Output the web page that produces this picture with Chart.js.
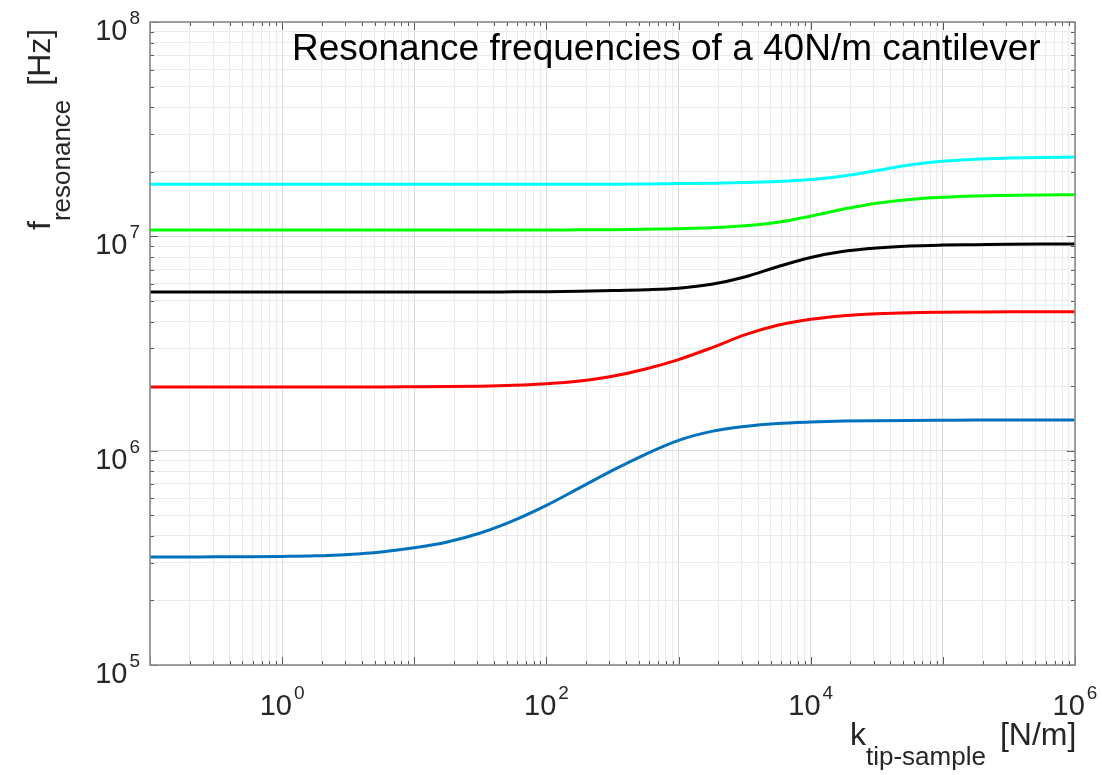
<!DOCTYPE html>
<html>
<head>
<meta charset="utf-8">
<title>Resonance frequencies of a 40N/m cantilever</title>
<script src="https://cdn.jsdelivr.net/npm/chart.js@4.4.0/dist/chart.umd.min.js"></script>
<style>
  html, body { margin: 0; padding: 0; background: #fff; }
</style>
</head>
<body>
<canvas id="resChart" width="1102" height="775"></canvas>
<script>
/* ================================
   DATA (quarter-decade steps)
================================ */
const kValues = [
    0.1, 0.178, 0.316, 0.562,
    1, 1.78, 3.16, 5.62,
    10, 17.8, 31.6, 56.2,
    100, 178, 316, 562,
    1000, 1780, 3160, 5620,
    1e4, 1.78e4, 3.16e4, 5.62e4,
    1e5, 1.78e5, 3.16e5, 5.62e5,
    1e6
];

const mode1 = [
    3.19e5, 3.19e5, 3.20e5, 3.20e5,
    3.21e5, 3.23e5, 3.28e5, 3.37e5,
    3.52e5, 3.75e5, 4.13e5, 4.72e5,
    5.56e5, 6.70e5, 8.09e5, 9.62e5,
    1.117e6, 1.230e6, 1.297e6, 1.340e6,
    1.361e6, 1.374e6, 1.380e6, 1.384e6,
    1.387e6, 1.39e6, 1.39e6, 1.39e6,
    1.39e6
];
const mode2 = [
    1.982e6, 1.982e6, 1.982e6, 1.982e6,
    1.982e6, 1.982e6, 1.982e6, 1.982e6,
    1.986e6, 1.991e6, 2.000e6, 2.018e6,
    2.051e6, 2.113e6, 2.223e6, 2.404e6,
    2.661e6, 3.020e6, 3.467e6, 3.846e6,
    4.102e6, 4.266e6, 4.355e6, 4.406e6,
    4.426e6, 4.436e6, 4.446e6, 4.446e6,
    4.446e6
];
const mode3 = [
    5.495e6, 5.495e6, 5.495e6, 5.495e6,
    5.495e6, 5.495e6, 5.495e6, 5.495e6,
    5.495e6, 5.495e6, 5.495e6, 5.508e6,
    5.521e6, 5.546e6, 5.585e6, 5.636e6,
    5.728e6, 5.970e6, 6.457e6, 7.211e6,
    7.962e6, 8.511e6, 8.831e6, 9.016e6,
    9.099e6, 9.141e6, 9.183e6, 9.204e6,
    9.204e6
];
const mode4 = [
    1.069e7, 1.069e7, 1.069e7, 1.069e7,
    1.069e7, 1.069e7, 1.069e7, 1.069e7,
    1.069e7, 1.069e7, 1.069e7, 1.069e7,
    1.069e7, 1.072e7, 1.074e7, 1.079e7,
    1.086e7, 1.096e7, 1.119e7, 1.164e7,
    1.242e7, 1.340e7, 1.426e7, 1.486e7,
    1.521e7, 1.542e7, 1.552e7, 1.560e7,
    1.563e7
];
const mode5 = [
    1.750e7, 1.750e7, 1.750e7, 1.750e7,
    1.750e7, 1.750e7, 1.750e7, 1.750e7,
    1.750e7, 1.750e7, 1.750e7, 1.750e7,
    1.750e7, 1.750e7, 1.750e7, 1.754e7,
    1.762e7, 1.770e7, 1.782e7, 1.803e7,
    1.841e7, 1.914e7, 2.028e7, 2.153e7,
    2.239e7, 2.291e7, 2.317e7, 2.333e7,
    2.344e7
];

const modeColors = ["#0072BD", "#FF0000", "#000000", "#00FF00", "#00FFFF"];

// tick decades (exponents) and which of them get a label
const xDecades = [-1, 0, 1, 2, 3, 4, 5, 6];
const xLabelDecades = [0, 2, 4, 6];
const yDecades = [5, 6, 7, 8];
const yLabelDecades = [5, 6, 7, 8];
const significands = [1, 2, 3, 4, 5, 6, 7, 8, 9];

const titleText = "Resonance frequencies of a 40N/m cantilever";

const FONT = '"Liberation Sans", Arial, sans-serif';
const TEXT = "#262626";

function isDecade(v) {
    const l = Math.log10(v);
    return Math.abs(l - Math.round(l)) < 1e-6;
}

function decadeTicks(decades) {
    const out = [];
    decades.forEach((d, i) => {
        significands.forEach(s => {
            if (i === decades.length - 1 && s > 1) return;
            out.push({ value: s * Math.pow(10, d) });
        });
    });
    return out;
}

function series(values) {
    return kValues.map((k, i) => ({ x: k, y: values[i] }));
}

/* ================================
   DECORATIONS (MATLAB-like box, ticks, labels)
================================ */
function drawPower(ctx, exp, x, baseY, mode) {
    ctx.font = "29px " + FONT;
    const bw = ctx.measureText("10").width;
    ctx.font = "19px " + FONT;
    const ew = ctx.measureText(String(exp)).width;
    let left;
    if (mode === "right") left = x - ew - 2 - bw;
    else left = x - (bw + 2 + ew) / 2;
    ctx.textAlign = "left";
    ctx.textBaseline = "alphabetic";
    ctx.font = "29px " + FONT;
    ctx.fillText("10", left, baseY);
    ctx.font = "19px " + FONT;
    ctx.fillText(String(exp), left + bw + 2, baseY - 16);
}

function drawSubTitle(ctx, main, sub, unit) {
    ctx.textAlign = "left";
    ctx.textBaseline = "alphabetic";
    ctx.font = "32px " + FONT;
    ctx.fillText(main, 0, 0);
    const mw = ctx.measureText(main).width;
    ctx.font = "26px " + FONT;
    ctx.fillText(sub, mw, 20);
    const sw = ctx.measureText(sub).width;
    ctx.font = "32px " + FONT;
    ctx.fillText(unit, mw + sw + 14, 0);
}

const matlabAxes = {
    id: "matlabAxes",
    afterDatasetsDraw(chart) {
        const ctx = chart.ctx;
        const a = chart.chartArea;
        const xs = chart.scales.x;
        const ys = chart.scales.y;

        ctx.save();
        // inward tick marks on all four sides
        ctx.strokeStyle = "#5a5a5a";
        ctx.lineWidth = 1;
        ctx.beginPath();
        xs.ticks.forEach(t => {
            const px = Math.round(xs.getPixelForValue(t.value)) + 0.5;
            const len = isDecade(t.value) ? 8 : 4;
            ctx.moveTo(px, a.bottom); ctx.lineTo(px, a.bottom - len);
            ctx.moveTo(px, a.top); ctx.lineTo(px, a.top + len);
        });
        ys.ticks.forEach(t => {
            const py = Math.round(ys.getPixelForValue(t.value)) + 0.5;
            const len = isDecade(t.value) ? 8 : 4;
            ctx.moveTo(a.left, py); ctx.lineTo(a.left + len, py);
            ctx.moveTo(a.right, py); ctx.lineTo(a.right - len, py);
        });
        ctx.stroke();

        // box
        ctx.strokeStyle = "#8a8a8a";
        ctx.lineWidth = 1.6;
        ctx.strokeRect(a.left, a.top, a.right - a.left, a.bottom - a.top);
        ctx.restore();
    },
    afterDraw(chart) {
        const ctx = chart.ctx;
        const xs = chart.scales.x;
        const ys = chart.scales.y;

        ctx.save();
        ctx.fillStyle = TEXT;

        yLabelDecades.forEach(d => {
            const py = ys.getPixelForValue(Math.pow(10, d));
            drawPower(ctx, d, 140, py + 18, "right");
        });
        xLabelDecades.forEach(d => {
            const px = xs.getPixelForValue(Math.pow(10, d));
            drawPower(ctx, d, px, 715, "center");
        });

        // y axis title (rotated)
        ctx.save();
        ctx.translate(50, 230);
        ctx.rotate(-Math.PI / 2);
        drawSubTitle(ctx, "f", "resonance", "[Hz]");
        ctx.restore();

        // x axis title
        ctx.save();
        ctx.translate(850, 745);
        drawSubTitle(ctx, "k", "tip-sample", "[N/m]");
        ctx.restore();

        // title inside the axes
        ctx.fillStyle = "#000";
        ctx.font = "37px " + FONT;
        ctx.textAlign = "left";
        ctx.textBaseline = "alphabetic";
        ctx.fillText(titleText, 292, 60);
        ctx.restore();
    }
};

/* ================================
   CHART
================================ */
const gridColor = c => (c.tick && isDecade(c.tick.value)) ? "#dcdcdc" : "#ebebeb";

const datasets = [mode1, mode2, mode3, mode4, mode5].map((vals, i) => ({
    label: "mode " + (i + 1),
    data: series(vals),
    borderColor: modeColors[i],
    backgroundColor: modeColors[i],
    borderWidth: 3,
    pointRadius: 0,
    fill: false,
    cubicInterpolationMode: "monotone"
}));

new Chart(document.getElementById("resChart"), {
    type: "line",
    data: { datasets: datasets },
    options: {
        responsive: false,
        animation: false,
        events: [],
        layout: { padding: { left: 0, right: 27, top: 22, bottom: 0 } },
        plugins: {
            legend: { display: false },
            title: { display: false },
            tooltip: { enabled: false }
        },
        scales: {
            x: {
                type: "logarithmic",
                min: 0.1,
                max: 1e6,
                afterBuildTicks: s => { s.ticks = decadeTicks(xDecades); },
                afterFit: s => { s.height = 110; },
                ticks: { display: false },
                border: { display: false },
                grid: { color: gridColor, lineWidth: 1, drawTicks: false }
            },
            y: {
                type: "logarithmic",
                min: 1e5,
                max: 1e8,
                afterBuildTicks: s => { s.ticks = decadeTicks(yDecades); },
                afterFit: s => { s.width = 150; },
                ticks: { display: false },
                border: { display: false },
                grid: { color: gridColor, lineWidth: 1, drawTicks: false }
            }
        }
    },
    plugins: [matlabAxes]
});
</script>
</body>
</html>
